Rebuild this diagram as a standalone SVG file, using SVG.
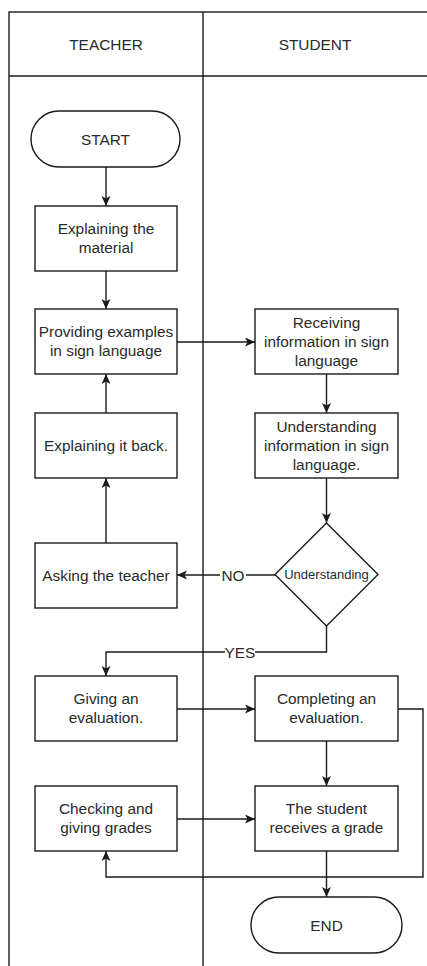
<svg xmlns="http://www.w3.org/2000/svg" width="427" height="966" viewBox="0 0 427 966">
<style>
  .shape { fill: #ffffff; stroke: #1a1a1a; stroke-width: 1.4; }
  .lane { fill: none; stroke: #1a1a1a; stroke-width: 1.4; }
  .edge { fill: none; stroke: #1a1a1a; stroke-width: 1.4; marker-end: url(#arrow); }
  text { font-family: "Liberation Sans", Arial, sans-serif; font-size: 15.4px; fill: #2a2a2a; text-anchor: middle; }
  .small { font-size: 13px; }
  .lbl { fill: #ffffff; stroke: none; }
</style>
<defs>
  <marker id="arrow" markerUnits="userSpaceOnUse" markerWidth="11" markerHeight="10" refX="10" refY="4.5" orient="auto">
    <path d="M0,0 L10,4.5 L0,9 L2.5,4.5 Z" fill="#1a1a1a"/>
  </marker>
</defs>
<rect width="427" height="966" fill="#ffffff"/>

<g id="pool">
  <rect class="lane" x="9" y="12" width="430" height="970"/>
  <line class="lane" x1="203" y1="12" x2="203" y2="966"/>
  <line class="lane" x1="9" y1="76" x2="430" y2="76"/>
  <text x="106" y="49.5">TEACHER</text>
  <text x="315" y="49.5">STUDENT</text>
</g>

<g id="connectors">
  <line class="edge" x1="106" y1="167" x2="106" y2="206"/>
  <line class="edge" x1="106" y1="271" x2="106" y2="309"/>
  <line class="edge" x1="177" y1="342" x2="255" y2="342"/>
  <line class="edge" x1="326.5" y1="374" x2="326.5" y2="413"/>
  <line class="edge" x1="326.5" y1="478" x2="326.5" y2="523"/>
  <line class="edge" x1="275" y1="575" x2="177" y2="575"/>
  <line class="edge" x1="106" y1="543" x2="106" y2="478"/>
  <line class="edge" x1="106" y1="413" x2="106" y2="374"/>
  <polyline class="edge" points="326.5,626 326.5,652 106,652 106,676"/>
  <line class="edge" x1="177" y1="709" x2="255" y2="709"/>
  <line class="edge" x1="326.5" y1="741" x2="326.5" y2="786"/>
  <polyline class="edge" points="398,709 423,709 423,877 106,877 106,851"/>
  <line class="edge" x1="177" y1="819" x2="255" y2="819"/>
  <line class="edge" x1="326.5" y1="851" x2="326.5" y2="897"/>
  <rect class="lbl" x="220" y="566" width="26" height="18"/>
  <text x="233" y="580.5">NO</text>
  <rect class="lbl" x="225" y="643" width="30" height="18"/>
  <text x="240" y="657.5">YES</text>
</g>

<g id="start">
  <rect class="shape" x="31" y="111" width="149" height="56" rx="28" ry="28"/>
  <text x="105.5" y="144.5">START</text>
</g>
<g id="explaining-material">
  <rect class="shape" x="35" y="206" width="142" height="65"/>
  <text x="106" y="234">Explaining the</text>
  <text x="106" y="253">material</text>
</g>
<g id="providing-examples">
  <rect class="shape" x="35" y="309" width="142" height="65"/>
  <text x="106" y="337">Providing examples</text>
  <text x="106" y="356">in sign language</text>
</g>
<g id="explaining-back">
  <rect class="shape" x="35" y="413" width="142" height="65"/>
  <text x="106" y="451">Explaining it back.</text>
</g>
<g id="asking-teacher">
  <rect class="shape" x="35" y="543" width="142" height="65"/>
  <text x="106" y="581">Asking the teacher</text>
</g>
<g id="giving-evaluation">
  <rect class="shape" x="35" y="676" width="142" height="65"/>
  <text x="106" y="704">Giving an</text>
  <text x="106" y="723">evaluation.</text>
</g>
<g id="checking-grades">
  <rect class="shape" x="35" y="786" width="142" height="65"/>
  <text x="106" y="814">Checking and</text>
  <text x="106" y="833">giving grades</text>
</g>
<g id="receiving-info">
  <rect class="shape" x="255" y="309" width="143" height="65"/>
  <text x="326.5" y="328">Receiving</text>
  <text x="326.5" y="347">information in sign</text>
  <text x="326.5" y="366">language</text>
</g>
<g id="understanding-info">
  <rect class="shape" x="255" y="413" width="143" height="65"/>
  <text x="326.5" y="432">Understanding</text>
  <text x="326.5" y="451">information in sign</text>
  <text x="326.5" y="470">language.</text>
</g>
<g id="understanding-decision">
  <polygon class="shape" points="326.5,523 378,574.5 326.5,626 275,574.5"/>
  <text class="small" x="326.5" y="579">Understanding</text>
</g>
<g id="completing-evaluation">
  <rect class="shape" x="255" y="676" width="143" height="65"/>
  <text x="326.5" y="704">Completing an</text>
  <text x="326.5" y="723">evaluation.</text>
</g>
<g id="student-grade">
  <rect class="shape" x="255" y="786" width="143" height="65"/>
  <text x="326.5" y="814">The student</text>
  <text x="326.5" y="833">receives a grade</text>
</g>
<g id="end">
  <rect class="shape" x="251" y="897" width="151" height="56" rx="28" ry="28"/>
  <text x="326.5" y="930.5">END</text>
</g>
</svg>
